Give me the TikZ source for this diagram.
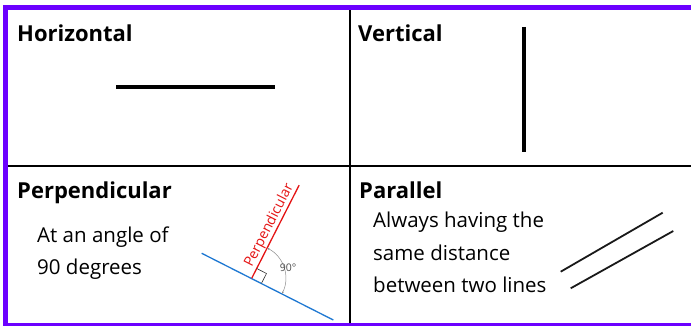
\documentclass[tikz,border=0pt]{standalone}
\usepackage{fontspec}
\setmainfont{Open Sans}
\usetikzlibrary{arrows.meta,calc}
\definecolor{framepurple}{RGB}{108,0,255}
\definecolor{lineblue}{RGB}{30,120,210}
\definecolor{linered}{RGB}{228,20,20}
\tikzset{
  heading/.style={anchor=base west, inner sep=0pt, font=\bfseries\fontsize{22}{26}\selectfont},
  bodytext/.style={anchor=base west, inner sep=0pt, align=left, font=\fontsize{20.5}{32.5}\selectfont},
}
\begin{document}
\begin{tikzpicture}[x=1pt, y=1pt]
\useasboundingbox (0,0) rectangle (691,326);

%--- FRAME AND GRID ---
\fill[framepurple] (3,316) rectangle (691,321);
\fill[framepurple] (3,0) rectangle (8,321);
\fill[framepurple] (3,0) rectangle (691,2.5);
\draw[line width=1.5pt] (350,2.5) -- (350,316);
\draw[line width=1.5pt] (8,160) -- (691,160);

%--- TOP LEFT: horizontal ---
\node[heading] (horiz) at (17,284) {Horizontal};
\draw[line width=4pt] (116,238.5) -- (275,238.5);

%--- TOP RIGHT: vertical ---
\node[heading] (vert) at (358,284) {Vertical};
\draw[line width=4pt] (523.7,299) -- (523.7,174);

%--- BOTTOM LEFT: perpendicular ---
\node[heading] (perp) at (17,127) {Perpendicular};
% base anchor sits on the last line
\node[bodytext] (perptext) at (37,51) {At an angle of\\90 degrees};

\coordinate (foot) at (251.7,47.7);
\draw[lineblue, line width=1.3pt] (201.7,72.7) -- (333.3,6);
\draw[linered, line width=1.3pt] (foot) -- ++(63:104.5) coordinate (redtop);
% right angle mark
\draw[black!80, line width=0.6pt] ($(foot)+(63:11)$) -- ++(-27:11) -- ++(-117:11);
% angle arc
\draw[black!45, line width=0.5pt, {Stealth[length=2.5pt]}-{Stealth[length=2.5pt]}]
  ($(foot)+(63:34)$) arc (63:-27:34);
\node[black!70, font=\fontsize{10.5}{12}\selectfont] (angle) at (288,58) {90\textdegree};
\node[linered, anchor=south, rotate=63, inner sep=1pt, font=\fontsize{14}{16}\selectfont]
  (perplabel) at ($(foot)+(63:55)$) {Perpendicular};

%--- BOTTOM RIGHT: parallel ---
\node[heading] (para) at (359,127) {Parallel};
\node[bodytext] (paratext) at (373,33) {Always having the\\same distance\\between two lines};
\draw[black!90, line width=1.8pt] (560.7,54.3) -- (662.7,113.3);
\draw[black!90, line width=1.8pt] (570.7,37.7) -- (673.3,95);

\end{tikzpicture}
\end{document}
